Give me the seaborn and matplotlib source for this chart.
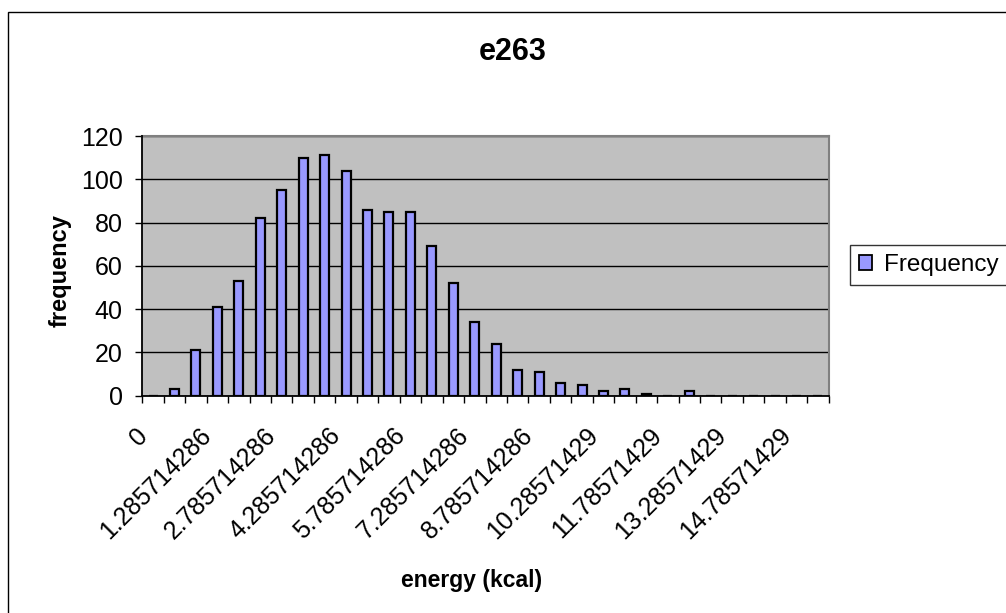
import numpy as np
import pandas as pd
import matplotlib
matplotlib.use("Agg")
import matplotlib.pyplot as plt
import matplotlib.transforms as mtransforms
from matplotlib.patches import Rectangle, Patch
import seaborn as sns

# Histogram bins (energy, kcal) and their counts
bin_labels = [
    "0", "0.285714286", "0.785714286", "1.285714286", "1.785714286",
    "2.285714286", "2.785714286", "3.285714286", "3.785714286", "4.285714286",
    "4.785714286", "5.285714286", "5.785714286", "6.285714286", "6.785714286",
    "7.285714286", "7.785714286", "8.285714286", "8.785714286", "9.285714286",
    "9.785714286", "10.28571429", "10.78571429", "11.28571429", "11.78571429",
    "12.28571429", "12.78571429", "13.28571429", "13.78571429", "14.28571429",
    "14.78571429", "15.28571429",
]
frequency = [
    0, 3, 21, 41, 53, 82, 95, 110, 111, 104, 86, 85, 85, 69, 52, 34,
    24, 12, 11, 6, 5, 2, 3, 1, 0, 2, 0, 0, 0, 0, 0, 0,
]
y_ticks = [0, 20, 40, 60, 80, 100, 120]

title = "e263"
x_title = "energy (kcal)"
y_title = "frequency"
series_name = "Frequency"

bar_color = "#9999FF"
plot_bg = "#C0C0C0"

sns.set_style("white")
plt.rcParams["font.family"] = ["Liberation Sans", "DejaVu Sans"]
for key in ("text.color", "axes.labelcolor", "xtick.color", "ytick.color"):
    plt.rcParams[key] = "black"

df = pd.DataFrame({"bin": bin_labels, "count": frequency})

W, H = 1006, 613
fig = plt.figure(figsize=(W / 100, H / 100), dpi=100)
fig.patch.set_facecolor("white")

left, right, top, bottom = 142.3, 828.7, 136.0, 395.7
ax = fig.add_axes([left / W, 1 - bottom / H, (right - left) / W, (bottom - top) / H])
ax.set_facecolor(plot_bg)

sns.barplot(data=df, x="bin", y="count", order=bin_labels, color=bar_color,
            saturation=1, width=0.42, edgecolor="black", linewidth=1.6,
            errorbar=None, ax=ax, zorder=3)

n = len(bin_labels)
ax.set_xlim(-0.5, n - 0.5)
ax.set_ylim(0, 120)

# horizontal gridlines
ax.set_yticks(y_ticks)
ax.yaxis.grid(True, color="black", linewidth=1.0, zorder=1)
ax.xaxis.grid(False)
ax.set_axisbelow(True)

# spines
for side in ("left", "bottom"):
    ax.spines[side].set_color("black")
    ax.spines[side].set_linewidth(1.3)
    ax.spines[side].set_zorder(4)
for side in ("top", "right"):
    ax.spines[side].set_color("#808080")
    ax.spines[side].set_linewidth(1.5)

# x ticks: marks between categories, labels on every third category
label_idx = list(range(0, n, 3))
ax.set_xticks(label_idx)
ax.set_xticklabels([bin_labels[i] for i in label_idx])
ax.set_xticks(np.arange(-0.5, n, 1.0), minor=True)
ax.tick_params(axis="x", which="major", length=0, pad=20, labelsize=18)
ax.tick_params(axis="x", which="minor", length=5, width=1.0, color="black",
               direction="out", bottom=True)
ax.tick_params(axis="y", which="major", length=5, width=1.0, color="black",
               direction="out", left=True, pad=9, labelsize=18)

shift = mtransforms.ScaledTranslation(-18 / 100, 0, fig.dpi_scale_trans)
for lbl in ax.get_xticklabels():
    lbl.set_rotation(45)
    lbl.set_ha("right")
    lbl.set_va("top")
    lbl.set_rotation_mode("anchor")
    lbl.set_transform(lbl.get_transform() + shift)

ax.set_xlabel("")
ax.set_ylabel("")

# titles
fig.text(513 / W, 1 - 52 / H, title, ha="center", va="center",
         fontsize=22, fontweight="bold")
fig.text(472 / W, 1 - 580 / H, x_title, ha="center", va="center",
         fontsize=16.5, fontweight="bold")
fig.text(60 / W, 1 - 271 / H, y_title, ha="center", va="center",
         rotation=90, fontsize=17, fontweight="bold")

# legend
handle = Patch(facecolor=bar_color, edgecolor="black", linewidth=1.3, label=series_name)
leg = fig.legend(handles=[handle], loc="center left",
                 bbox_to_anchor=(850 / W, 1 - 265 / H), fontsize=17.5,
                 frameon=True, fancybox=False, handlelength=0.55,
                 handleheight=0.55, handletextpad=0.5, borderpad=0.35,
                 borderaxespad=0)
leg.get_frame().set_edgecolor("black")
leg.get_frame().set_linewidth(1.0)

# chart-area frame
fig.patches.append(Rectangle((8 / W, -0.1), 1.2, 1 - 12 / H + 0.1,
                             transform=fig.transFigure, fill=False,
                             edgecolor="black", linewidth=1.0, zorder=0))

fig.savefig("out.png", dpi=100)
